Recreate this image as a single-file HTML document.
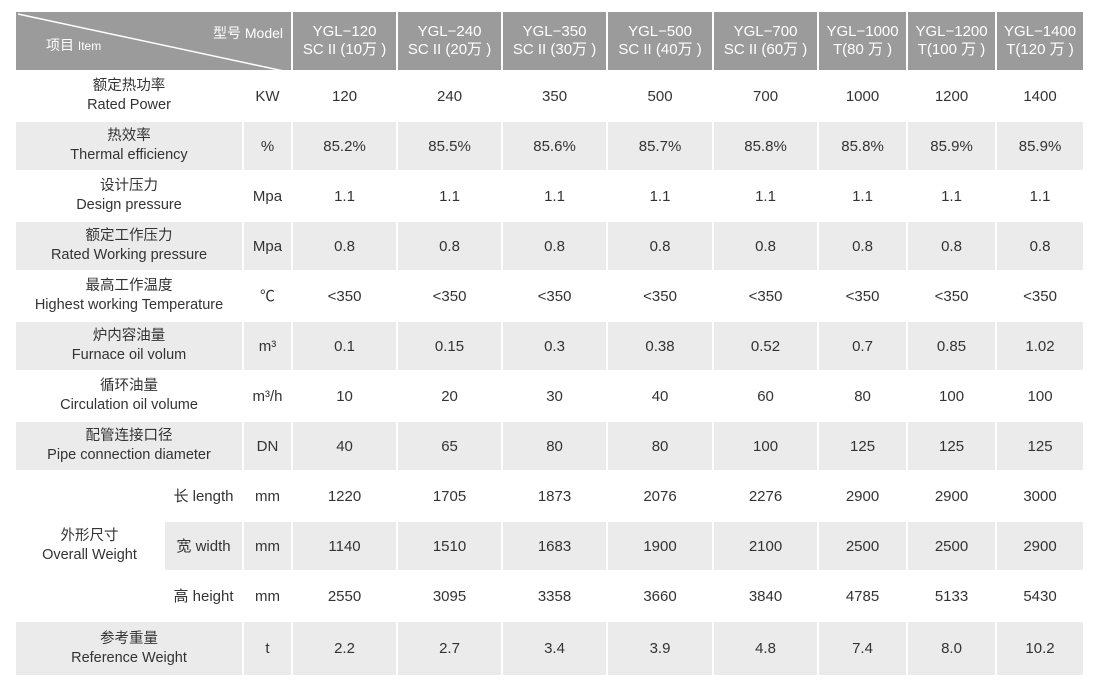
<!DOCTYPE html>
<html><head><meta charset="utf-8"><style>
body{margin:0;background:#fff;width:1096px;height:686px;overflow:hidden}
table{position:absolute;left:14px;top:10px;border-collapse:collapse;table-layout:fixed;width:1070px;font-family:"Liberation Sans","Noto Sans CJK SC",sans-serif;color:#333;font-size:15px}
td{border:2px solid #fff;text-align:center;vertical-align:middle;padding:0;line-height:19px;overflow:hidden;white-space:nowrap}
tr.h td{background:#9b9b9b;color:#fff;font-size:15px;height:58px;line-height:18px}
tr.g td{background:#ebebeb}
tr td.w{background:#fff}
.lab{font-size:14.5px}
tr.r td{height:48px}
</style></head><body>
<table>
<colgroup><col style="width:149px"><col style="width:79px"><col style="width:49px"><col style="width:105px"><col style="width:105px"><col style="width:105px"><col style="width:106px"><col style="width:105px"><col style="width:89px"><col style="width:89px"><col style="width:88px"></colgroup>
<tr class="h"><td colspan="3" style="position:relative;text-align:left">
<svg width="277" height="61" style="position:absolute;left:0;top:0"><line x1="2" y1="2" x2="277" y2="61" stroke="#fff" stroke-width="1.5"/></svg>
<span style="position:absolute;left:30px;top:24px;font-size:14px">项目 <span style="font-size:12px">Item</span></span>
<span style="position:absolute;right:8px;top:12px;font-size:14px">型号 Model</span></td>
<td>YGL−120<br>SC II (10万 )</td><td>YGL−240<br>SC II (20万 )</td><td>YGL−350<br>SC II (30万 )</td><td>YGL−500<br>SC II (40万 )</td><td>YGL−700<br>SC II (60万 )</td><td>YGL−1000<br>T(80 万 )</td><td>YGL−1200<br>T(100 万 )</td><td>YGL−1400<br>T(120 万 )</td></tr>
<tr class="r"><td colspan="2" class="lab">额定热功率<br>Rated Power</td><td>KW</td><td>120</td><td>240</td><td>350</td><td>500</td><td>700</td><td>1000</td><td>1200</td><td>1400</td></tr>
<tr class="r g"><td colspan="2" class="lab">热效率<br>Thermal efficiency</td><td>%</td><td>85.2%</td><td>85.5%</td><td>85.6%</td><td>85.7%</td><td>85.8%</td><td>85.8%</td><td>85.9%</td><td>85.9%</td></tr>
<tr class="r"><td colspan="2" class="lab">设计压力<br>Design pressure</td><td>Mpa</td><td>1.1</td><td>1.1</td><td>1.1</td><td>1.1</td><td>1.1</td><td>1.1</td><td>1.1</td><td>1.1</td></tr>
<tr class="r g"><td colspan="2" class="lab">额定工作压力<br>Rated Working pressure</td><td>Mpa</td><td>0.8</td><td>0.8</td><td>0.8</td><td>0.8</td><td>0.8</td><td>0.8</td><td>0.8</td><td>0.8</td></tr>
<tr class="r"><td colspan="2" class="lab">最高工作温度<br>Highest working Temperature</td><td>℃</td><td>&lt;350</td><td>&lt;350</td><td>&lt;350</td><td>&lt;350</td><td>&lt;350</td><td>&lt;350</td><td>&lt;350</td><td>&lt;350</td></tr>
<tr class="r g"><td colspan="2" class="lab">炉内容油量<br>Furnace oil volum</td><td>m³</td><td>0.1</td><td>0.15</td><td>0.3</td><td>0.38</td><td>0.52</td><td>0.7</td><td>0.85</td><td>1.02</td></tr>
<tr class="r"><td colspan="2" class="lab">循环油量<br>Circulation oil volume</td><td>m³/h</td><td>10</td><td>20</td><td>30</td><td>40</td><td>60</td><td>80</td><td>100</td><td>100</td></tr>
<tr class="r g"><td colspan="2" class="lab">配管连接口径<br>Pipe connection diameter</td><td>DN</td><td>40</td><td>65</td><td>80</td><td>80</td><td>100</td><td>125</td><td>125</td><td>125</td></tr>
<tr class="r"><td rowspan="3" class="lab w">外形尺寸<br>Overall Weight</td><td>长 length</td><td>mm</td><td>1220</td><td>1705</td><td>1873</td><td>2076</td><td>2276</td><td>2900</td><td>2900</td><td>3000</td></tr>
<tr class="r g"><td>宽 width</td><td>mm</td><td>1140</td><td>1510</td><td>1683</td><td>1900</td><td>2100</td><td>2500</td><td>2500</td><td>2900</td></tr>
<tr class="r"><td>高 height</td><td>mm</td><td>2550</td><td>3095</td><td>3358</td><td>3660</td><td>3840</td><td>4785</td><td>5133</td><td>5430</td></tr>
<tr class="g"><td colspan="2" class="lab" style="height:53px">参考重量<br>Reference Weight</td><td>t</td><td>2.2</td><td>2.7</td><td>3.4</td><td>3.9</td><td>4.8</td><td>7.4</td><td>8.0</td><td>10.2</td></tr>
</table>
</body></html>
